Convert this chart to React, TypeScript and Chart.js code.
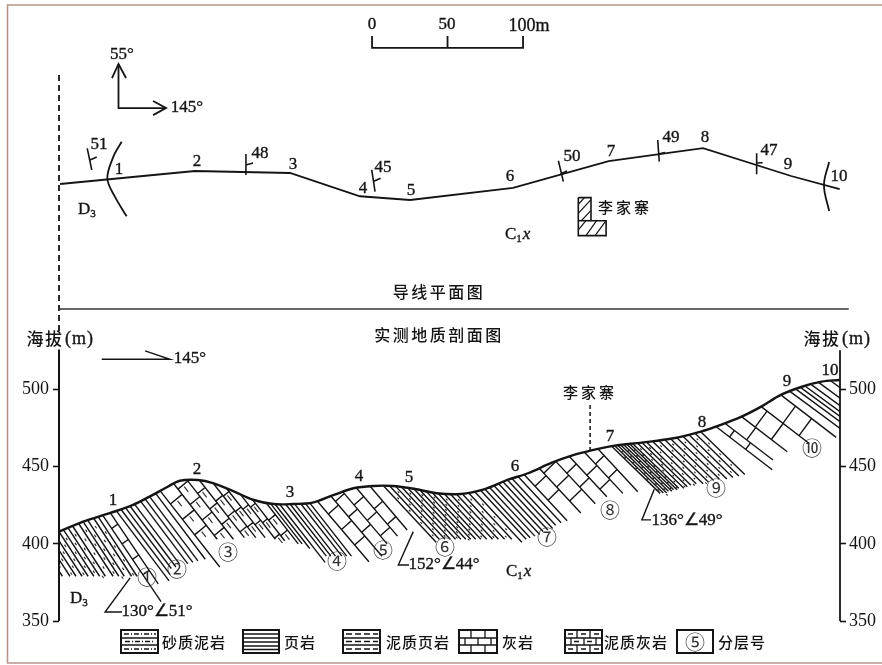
import React, { useEffect, useRef } from "react";
import { Chart, registerables } from "chart.js";
Chart.register(...registerables);

// ---------- profile data: horizontal distance (m) and elevation (m) ----------
const surfaceX = [0, 16, 34, 49, 60, 72, 80, 92, 102, 115, 129, 142, 155, 168, 182, 195, 208, 221, 235, 250, 266, 282, 297, 311, 326, 341, 352, 368, 386, 407, 425, 438, 452, 465, 478, 492, 505, 517];
const surfaceElev = [407.9, 414.4, 420, 425.2, 430.6, 437, 440.9, 441.4, 439.4, 434.3, 428.4, 425.8, 425.8, 426.7, 431.7, 436, 437.5, 437.5, 435.7, 432.8, 432.3, 435.5, 441.4, 445.9, 452.4, 457.6, 460.4, 463.6, 465.6, 468.4, 472.7, 477, 482.4, 488.9, 496.5, 501.8, 505.1, 506.2];
const elevationTicks = [350, 400, 450, 500];

// ---------- bed lines of each stratum: x of the top on the surface, elevation of the foot ----------
const unit1Tops = [-22, -17, -12, -8, -4, 0, 3, 6, 9, 13, 16, 19, 23, 26];
const unit1Floors = [379, 379, 379, 379, 379, 379, 379, 379, 379, 379, 379, 379, 379, 379];
const unit1bTops = [29, 34];
const unit1bFloors = [362.5, 374];
const unit2Tops = [38, 41, 44, 47, 50, 54, 57, 60, 64];
const unit2Floors = [376, 380, 384, 385, 387, 387, 388, 389, 390];
const unit3Tops = [67, 76, 85, 93, 102, 111, 120, 128, 137];
const unit3Floors = [385, 403, 403, 404, 404, 404, 403, 402, 400];
const unit4Tops = [140, 143, 146, 150, 153, 156, 160, 163, 166];
const unit4Floors = [400, 397, 388, 392, 392, 392, 392, 392, 392];
const unit5Tops = [171, 180, 188, 197, 206];
const unit5Floors = [388.4, 392, 400, 405, 409];
const unit6Tops = [215, 219, 223, 227, 231, 235, 239, 243, 247, 251, 255, 259, 263, 267, 271, 275];
const unit6Floors = [401, 403, 403, 403, 403, 403, 403, 403, 403, 403, 403, 403, 403, 403, 403, 401];
const unit7Tops = [279, 282, 285, 288, 291, 294, 297, 300, 304];
const unit7Floors = [403, 404, 405, 406, 408, 409, 410, 412, 413.7];
const unit8Tops = [308, 318, 329, 338, 348, 357];
const unit8Floors = [415, 420, 426, 430.5, 432.7, 433.8];
const unit9Tops = [366, 368, 370, 372, 374, 376, 378, 380, 383, 386, 389, 393, 397, 401, 405, 409, 413, 417, 421, 425];
const unit9Floors = [432.7, 433, 433, 434, 434, 435, 435, 436, 436, 437, 438, 439, 439, 440, 441, 442, 442, 443, 444, 445];
const unit10Tops = [435, 441, 452, 465, 478];
const unit10Floors = [448, 454.3, 459.7, 465, 469];
const unit10bTops = [484, 488, 491, 494, 498, 503, 511];
const unit10bFloors = [471, 474, 476, 479, 483, 487, 496];

const units = [
  { tops: unit1Tops, floors: unit1Floors, slope: 1.5, fill: "sand", step: 9 },
  { tops: unit1bTops, floors: unit1bFloors, slope: 1.45, fill: "brick", step: 10 },
  { tops: unit2Tops, floors: unit2Floors, slope: 1.3, fill: "none", step: 0 },
  { tops: unit3Tops, floors: unit3Floors, slope: 1.25, fill: "marl", step: 10 },
  { tops: unit4Tops, floors: unit4Floors, slope: 1.25, fill: "none", step: 0 },
  { tops: unit5Tops, floors: unit5Floors, slope: 1.15, fill: "brick", step: 10 },
  { tops: unit6Tops, floors: unit6Floors, slope: 1.05, fill: "sand", step: 8 },
  { tops: unit7Tops, floors: unit7Floors, slope: 1.05, fill: "none", step: 0 },
  { tops: unit8Tops, floors: unit8Floors, slope: 1.05, fill: "brick", step: 9 },
  { tops: unit9Tops, floors: unit9Floors, slope: 0.95, fill: "sand", step: 7 },
  { tops: unit10Tops, floors: unit10Floors, slope: 0.75, fill: "brick", step: 8 },
  { tops: unit10bTops, floors: unit10bFloors, slope: 0.72, fill: "none", step: 0 },
];

// ---------- leaders on the profile [x, elevation] ----------
const leader1 = [[47.1, 377.9], [30.5, 355.8], [41.7, 355.8]];
const leader2 = [[234.6, 407.9], [224.7, 386.3], [231.8, 386.3]];
const leader3 = [[394.2, 435.3], [386, 415.5], [392, 415.5]];
const villageDrop = [[351.7, 490], [351.7, 460.2]];
const sectionArrow = [[28.3, 519.6], [73.5, 519.6], [57, 525]];
const leftAxis = [[0, 350], [0, 526]];
const rightAxis = [[517.2, 350], [517.2, 525.5]];

// ---------- plan map data: x (m) and plan northing (m) ----------
const traverseX = [0.7, 90, 153, 199.3, 232.5, 300.7, 364, 426.5, 484.8, 517];
const traverseN = [289.4, 298, 296.7, 281.3, 278.8, 286.8, 304.6, 313.2, 294.7, 286];
const faultLeft = [[41.5, 317.4], [36, 307.5], [32, 293], [37, 281], [44.8, 268]];
const faultRight = [[510, 304], [506.6, 288.7], [510, 271.5]];
const strikeDips = [
  [[18.7, 313], [21.7, 298.7]], [[20.5, 305.3], [25, 307.3]],
  [[123.8, 309.3], [123.8, 295.4]], [[123.8, 302], [128.5, 303.3]],
  [[207.1, 298.7], [209.3, 284.3]], [[208, 291], [213, 293.2]],
  [[330.7, 304.8], [334, 291]], [[332, 296], [336.4, 298]],
  [[396.5, 318.5], [397.5, 304.2]], [[396.9, 309.3], [401.3, 310.2]],
  [[462, 309.7], [462, 295.8]], [[462, 303.3], [466, 303.5]],
];
const scaleBar = [[207.3, 387.4], [207.3, 379.5], [307.3, 379.5], [307.3, 387.4]];
const scaleMid = [[257.3, 387.4], [257.3, 379.5]];
const northArrow = [[39.4, 368.9], [39.4, 339.7], [70.5, 339.7]];
const northHead = [[35.1, 359.6], [39.4, 368.9], [44.4, 359.6]];
const eastHead = [[62.3, 344.4], [70.9, 339.7], [62.3, 335]];
const planRule = [[0, 206.6], [523, 206.6]];
const planDash = [[0, 361.6], [0, 189.4]];
const villageBlock = [[343.9, 280.4], [352.3, 280.4], [352.3, 265.1], [362.3, 265.1], [362.3, 255.2], [343.9, 255.2], [343.9, 280.4]];
const villageSplit = [[343.9, 265.1], [352.3, 265.1]];
const villageHatch = [
  [[343.9, 270], [352.3, 279]], [[343.9, 276], [348, 280.4]], [[346, 265.1], [352.3, 272]],
  [[343.9, 259], [349, 265.1]], [[349, 255.2], [356, 265.1]], [[355, 255.2], [362.3, 265.1]],
];

// ---------- texts ----------
const SERIF = '"Liberation Serif"';
const CJK = '"Noto Sans CJK SC"';
const latinTexts: [string, number, number, number][] = [
  ["0", 372, 25, 17], ["50", 447, 25, 17], ["100m", 529, 26, 18],
  ["55°", 122, 55, 17], ["145°", 187, 108, 17],
  ["51", 99, 145, 17], ["1", 119, 170, 17], ["2", 197, 162, 17], ["48", 260, 154, 17],
  ["3", 293, 165, 17], ["45", 383, 168, 17], ["4", 363, 189, 17], ["5", 411, 191, 17],
  ["6", 510, 177, 17], ["50", 572, 157, 17], ["7", 611, 152, 17], ["49", 671, 138, 17],
  ["8", 705, 138, 17], ["47", 769, 151, 17], ["9", 788, 165, 17], ["10", 839, 177, 17],
  ["145°", 190, 359, 17],
  ["1", 113, 501, 17], ["2", 197, 470, 17], ["3", 290, 493, 17], ["4", 359, 477, 17],
  ["5", 409, 478, 17], ["6", 515, 467, 17], ["7", 610, 437, 17], ["8", 702, 423, 17],
  ["9", 787, 382, 17], ["10", 830, 371, 17],
  ["130°∠51°", 157, 612, 17], ["152°∠44°", 444, 565, 17], ["136°∠49°", 687, 521, 17],
];
const cjkTexts: [string, number, number, number, number][] = [
  ["导线平面图", 439, 292, 16, 2.5], ["实测地质剖面图", 439, 335, 16, 2.5],
  ["李家寨", 625, 207, 15, 3], ["李家寨", 590, 392, 15, 3],
  ["海拔", 45, 339, 17, 1.5], ["海拔", 822, 339, 17, 1.5],
  ["砂质泥岩", 194, 642, 15, 1], ["页岩", 300, 642, 15, 1], ["泥质页岩", 418, 642, 15, 1],
  ["灰岩", 518, 642, 15, 1], ["泥质灰岩", 636, 642, 15, 1], ["分层号", 742, 642, 15, 1],
];
const unitMarks: [string, number, number][] = [
  ["①", 147, 577], ["②", 177, 569], ["③", 228, 552], ["④", 337, 561], ["⑤", 383, 550],
  ["⑥", 445, 547], ["⑦", 547, 537], ["⑧", 610, 510], ["⑨", 716, 488], ["⑩", 812, 448],
];

// ---------- helpers ----------
type P = { x: number; y: number };
const GAP: P = { x: NaN, y: NaN };
const pts = (a: number[][]): P[] => a.map(([x, y]) => ({ x, y }));
const surfaceAt = (x: number) => {
  if (x <= surfaceX[0]) return surfaceElev[0];
  for (let i = 1; i < surfaceX.length; i++) {
    if (x <= surfaceX[i]) {
      const t = (x - surfaceX[i - 1]) / (surfaceX[i] - surfaceX[i - 1]);
      return surfaceElev[i - 1] + t * (surfaceElev[i] - surfaceElev[i - 1]);
    }
  }
  return surfaceElev[surfaceElev.length - 1];
};

const bedPoints: P[] = [];
const brickPoints: P[] = [];
const dashPoints: P[] = [];
for (const u of units) {
  const s = u.slope;
  u.tops.forEach((top, i) => {
    const e = surfaceAt(top);
    bedPoints.push({ x: top, y: e }, { x: top + (e - u.floors[i]) / s, y: u.floors[i] }, GAP);
    if (u.fill === "none" || i === u.tops.length - 1) return;
    const top2 = u.tops[i + 1];
    const e2 = surfaceAt(top2);
    const floorLow = Math.max(u.floors[i], u.floors[i + 1]);
    const xOn = (t: number, te: number, el: number) => t + (te - el) / s;
    let el = e - (i % 2 ? u.step * 0.35 : u.step * 0.85);
    for (; el > floorLow; el -= u.step) {
      const xa = xOn(top, e, el);
      const D = xOn(top2, e2, el) - xa;
      const a = (s * s * D) / (1 + s * s);
      const b = (s * D) / (1 + s * s);
      if (el + b >= e2 || el + b <= u.floors[i + 1]) continue;
      if (u.fill === "brick" || u.fill === "marl") {
        brickPoints.push({ x: xa, y: el }, { x: xa + a, y: el + b }, GAP);
      }
      const mx = xa + a / 2 + 0.55 * u.step / s / 2;
      const my = el + b / 2 - 0.55 * u.step / 2;
      if (u.fill === "marl" || u.fill === "sand") {
        const half = u.fill === "marl" ? 1.9 : 0.7;
        dashPoints.push({ x: mx - half / 1.4, y: my + (half / 1.4) * s }, { x: mx + half / 1.4, y: my - (half / 1.4) * s }, GAP);
      }
    }
  });
}
const segments = (list: number[][][]): P[] => list.flatMap((seg) => [...pts(seg), GAP]);

const INK = "#141414";
const line = (data: P[], yAxisID: string, width: number, extra: object = {}) => ({
  data, yAxisID, borderColor: INK, borderWidth: width, pointRadius: 0, tension: 0, fill: false, clip: false, ...extra,
});

const overlay = {
  id: "overlay",
  afterDraw(chart: Chart) {
    const c = chart.ctx;
    c.save();
    // frame
    c.strokeStyle = "#b8958a";
    c.lineWidth = 1.6;
    c.beginPath();
    c.moveTo(882, 5); c.lineTo(7.5, 5); c.lineTo(7.5, 663); c.lineTo(882, 663);
    c.stroke();

    c.fillStyle = INK;
    c.strokeStyle = INK;
    c.lineWidth = 0.35;
    c.textAlign = "center";
    c.textBaseline = "middle";
    const put = (t: string, x: number, y: number) => { c.fillText(t, x, y); c.strokeText(t, x, y); };
    for (const [t, x, y, size] of latinTexts) {
      c.font = `${size}px ${SERIF}`;
      put(t, x, y);
    }
    const sub = (main: string, s: string, x: number, y: number, tail = "") => {
      c.textAlign = "left";
      c.font = `17px ${SERIF}`;
      put(main, x, y);
      const w = c.measureText(main).width;
      c.font = `11px ${SERIF}`;
      put(s, x + w, y + 4);
      if (tail) {
        const w2 = c.measureText(s).width;
        c.font = `italic 17px ${SERIF}`;
        put(tail, x + w + w2 + 1, y);
      }
      c.textAlign = "center";
    };
    sub("D", "3", 78, 210);
    sub("D", "3", 70, 599);
    sub("C", "1", 505, 235, "x");
    sub("C", "1", 506, 572, "x");

    c.font = `18px ${SERIF}`;
    (c as any).letterSpacing = "1px";
    c.textAlign = "left";
    put("(m)", 65, 339);
    put("(m)", 842, 339);
    c.textAlign = "center";

    for (const [t, x, y, size, gap] of cjkTexts) {
      c.font = `500 ${size}px ${CJK}`;
      (c as any).letterSpacing = `${gap}px`;
      c.fillText(t, x, y);
    }
    (c as any).letterSpacing = "0px";
    c.fillStyle = "#333";
    c.font = `20px ${CJK}`;
    for (const [t, x, y] of unitMarks) c.fillText(t, x, y);
    c.fillText("⑤", 695, 642);

    // legend keys
    const H = (x0: number, x1: number, y: number, dash: number[] = []) => {
      c.setLineDash(dash);
      c.beginPath(); c.moveTo(x0, y); c.lineTo(x1, y); c.stroke();
      c.setLineDash([]);
    };
    const V = (x: number, y0: number, y1: number) => {
      c.beginPath(); c.moveTo(x, y0); c.lineTo(x, y1); c.stroke();
    };
    const T = 630, B = 653;
    const box = (x0: number, x1: number) => { c.lineWidth = 2; c.strokeRect(x0, T, x1 - x0, B - T); c.lineWidth = 1.3; };
    box(121, 158);
    H(121, 158, 638); H(121, 158, 645);
    H(124, 156, 634, [5, 2, 1, 2]); H(125, 155, 641.5, [5, 2, 1, 2]); H(124, 156, 649, [5, 2, 1, 2]);
    box(243, 279);
    [634, 638, 642, 646, 649.5].forEach((y) => H(243, 279, y));
    box(343, 380);
    H(343, 380, 638); H(343, 380, 645);
    H(346, 378, 634, [6, 3]); H(346, 378, 641.5, [6, 3]); H(346, 378, 649, [6, 3]);
    box(459, 497);
    H(459, 497, 638); H(459, 497, 645);
    [471, 485].forEach((x) => V(x, T, 638)); [465, 478, 491].forEach((x) => V(x, 638, 645)); [471, 485].forEach((x) => V(x, 645, B));
    box(565, 602);
    H(565, 602, 638); H(565, 602, 645);
    [577, 590].forEach((x) => V(x, T, 638)); [571, 584, 596].forEach((x) => V(x, 638, 645)); [577, 590].forEach((x) => V(x, 645, B));
    H(568, 600, 634, [5, 8]); H(574, 600, 641.5, [5, 8]); H(568, 600, 649, [5, 8]);
    box(677, 713);
    c.restore();
  },
};

const yAxis = (position: "left" | "right", pad: number, width: number) => ({
  type: "linear" as const,
  position,
  min: 350,
  max: 752.4,
  afterBuildTicks: (s: any) => { s.ticks = elevationTicks.map((value) => ({ value })); },
  afterFit: (s: any) => { s.width = width; s.paddingTop = 0; s.paddingBottom = 0; },
  border: { display: false },
  grid: { drawOnChartArea: false, drawTicks: true, tickLength: 6, tickColor: INK, tickWidth: 1.6 },
  ticks: { padding: pad, color: INK, autoSkip: false, maxRotation: 0, font: { family: "Liberation Serif", size: 18 } },
});

export default function App() {
  const ref = useRef<HTMLCanvasElement>(null);
  useEffect(() => {
    const chart = new Chart(ref.current!, {
      type: "line",
      plugins: [overlay],
      data: {
        datasets: [
          line(surfaceX.map((x, i) => ({ x, y: surfaceElev[i] })), "y", 2.4, { tension: 0.35 }),
          line(bedPoints, "y", 1.4, { clip: undefined }),
          line(brickPoints, "y", 1.4, { clip: undefined }),
          line(dashPoints, "y", 1.2, { clip: undefined, borderColor: "#333" }),
          line(pts(leftAxis), "y", 2),
          line(pts(rightAxis), "y", 1.8),
          line(pts(leader1), "y", 1.4),
          line(pts(leader2), "y", 1.4),
          line(pts(leader3), "y", 1.4),
          line(pts(villageDrop), "y", 1.5, { borderDash: [4, 3] }),
          line(pts(sectionArrow), "y", 1.4),
          line(traverseX.map((x, i) => ({ x, y: traverseN[i] })), "yPlan", 1.8),
          line(pts(faultLeft), "yPlan", 1.8, { tension: 0.35 }),
          line(pts(faultRight), "yPlan", 1.8, { tension: 0.4 }),
          line(segments(strikeDips), "yPlan", 1.6),
          line(pts(scaleBar), "yPlan", 1.8),
          line(pts(scaleMid), "yPlan", 1.8),
          line(pts(northArrow), "yPlan", 1.8),
          line(pts(northHead), "yPlan", 1.8),
          line(pts(eastHead), "yPlan", 1.8),
          line(pts(planRule), "yPlan", 1.5, { borderColor: "#333" }),
          line(pts(planDash), "yPlan", 1.8, { borderDash: [6, 4] }),
          line(pts(villageBlock), "yPlan", 1.6),
          line(pts(villageSplit), "yPlan", 1.6),
          line(segments(villageHatch), "yPlan", 1.2),
        ] as any,
      },
      options: {
        animation: false,
        responsive: false,
        devicePixelRatio: 1,
        layout: { padding: { left: 0, right: 0, top: 0, bottom: 44 } },
        plugins: { legend: { display: false }, tooltip: { enabled: false } },
        scales: {
          x: { type: "linear", min: 0, max: 517.2, display: false },
          y: yAxis("left", 4, 59),
          y2: yAxis("right", 3, 42),
          yPlan: { type: "linear", min: 0, max: 411.26, display: false },
        },
      } as any,
    });
    return () => chart.destroy();
  }, []);
  return (
    <div style={{ position: "fixed", left: 0, top: 0, width: 882, height: 665, background: "#fff" }}>
      <canvas ref={ref} width={882} height={665} style={{ display: "block", filter: "blur(0.35px)" }} />
    </div>
  );
}
